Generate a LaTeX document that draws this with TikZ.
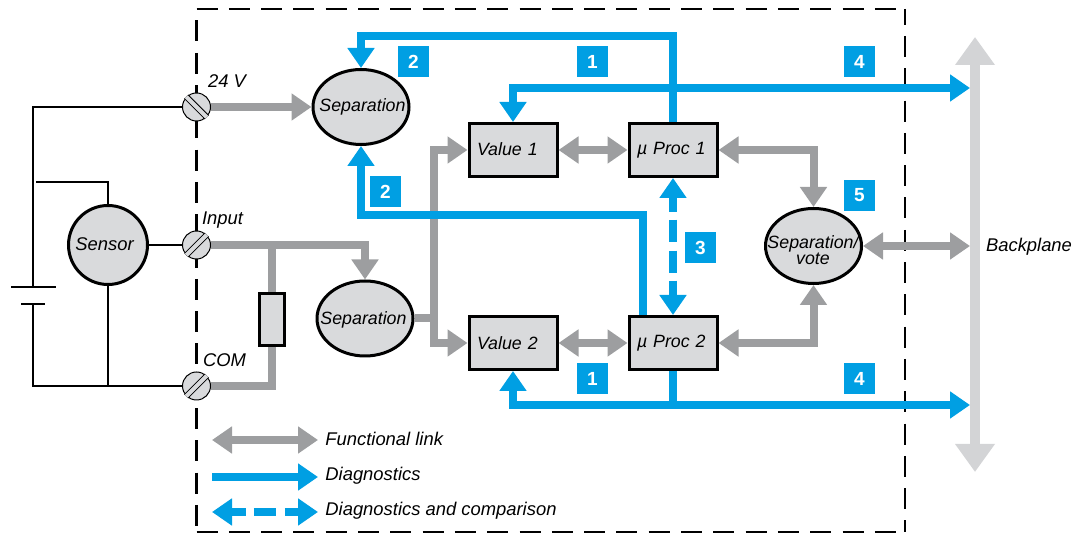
\documentclass[tikz,border=0pt]{standalone}
\usepackage{fontspec}
\setmainfont{Liberation Sans}
\usetikzlibrary{arrows.meta,shapes.geometric}
\definecolor{diagblue}{HTML}{009FE3}
\definecolor{linkgray}{HTML}{9D9EA0}
\definecolor{bodygray}{HTML}{D9DADC}
\definecolor{busgray}{HTML}{D3D4D6}
\tikzset{
    txt/.style={font=\itshape\fontsize{9.2}{8}\selectfont,inner sep=0pt,align=center},
    septxt/.style={txt,font=\itshape\fontsize{8.9}{8}\selectfont},
    blockbox/.style={font=\itshape\fontsize{8.9}{8}\selectfont,inner sep=0pt,draw=black,fill=bodygray,line width=1.5pt,minimum height=26.5pt,text width=36pt,inner xsep=4pt,align=left},
    sepnode/.style={ellipse,draw=black,fill=bodygray,line width=1.5pt,minimum width=48pt,minimum height=37.5pt},
    resbox/.style={draw=black,fill=bodygray,line width=1.5pt,minimum width=12.5pt,minimum height=26pt,inner sep=0pt},
    screw/.style={circle,draw=black,fill=bodygray,line width=0.5pt,minimum size=14pt,inner sep=0pt},
    slot/.style={draw=black,line width=0.5pt,double=bodygray,double distance=2pt},
    edge/.style={black,line width=1.25pt,dash pattern=on 10.5pt off 5.65pt},
    badge/.style={fill=diagblue,text=white,font=\bfseries\fontsize{9.5}{10}\selectfont,minimum size=15.5pt,inner sep=0pt},
    wire/.style={draw=black,line width=1.25pt},
    func/.style={draw=linkgray,line width=4pt},
    funcarrow/.style={func,-{Triangle[length=10pt,width=13pt,color=linkgray]}},
    funcboth/.style={func,{Triangle[length=10pt,width=13pt,color=linkgray]}-{Triangle[length=10pt,width=13pt,color=linkgray]}},
    diag/.style={draw=diagblue,line width=4pt},
    diagarrow/.style={diag,-{Triangle[length=10pt,width=13pt,color=diagblue]}},
    diagboth/.style={diag,{Triangle[length=10pt,width=13pt,color=diagblue]}-{Triangle[length=10pt,width=13pt,color=diagblue]}},
    bus/.style={draw=busgray,line width=5pt,{Triangle[length=14pt,width=19pt,color=busgray]}-{Triangle[length=14pt,width=19pt,color=busgray]}}
}
\begin{document}
\begin{tikzpicture}[x=0.5pt,y=-0.5pt]
    \useasboundingbox (0,0) rectangle (1087,533);
    \coordinate (BoxA) at (196.5,9); \coordinate (BoxB) at (905,9); \coordinate (BoxC) at (905,532); \coordinate (BoxD) at (196.5,532); \coordinate (BoxE) at (196.5,20.5);
    \draw[edge] (BoxA) -- (BoxB); \draw[edge] (BoxD) -- (BoxC);
    \draw[edge] (BoxE) -- (BoxD);
    \draw[edge,dash phase=2.65pt] (BoxB) -- (BoxC);

    \node[screw] (S1) at (196.5,107) {};
    \node[screw] (S2) at (196.5,245) {};
    \node[screw] (S3) at (196.5,386) {};
    \draw[slot] (S1.135) -- (S1.-45); \draw[slot] (S2.45) -- (S2.-135); \draw[slot] (S3.45) -- (S3.-135);
    \node[txt] (L24) at (227,81) {24 V};
    \node[txt] (LIn) at (222.5,220) {Input};
    \node[txt] (LCom) at (224.5,360) {COM};

    \node[screw,minimum size=39.5pt,line width=1.5pt] (Sensor) at (108,245) {};
    \node[txt] (LSensor) at (104.5,244) {Sensor};
    \node[resbox] (Res) at (271.5,319.5) {};
    \coordinate (BatT) at (33,287); \coordinate (BatB) at (33,304); \coordinate (WireS) at (36,182);
    \coordinate (BatTl) at (11,287); \coordinate (BatTr) at (56,287);
    \coordinate (BatBl) at (21,304); \coordinate (BatBr) at (45,304);
    \draw[wire] (S1.west) -| (BatT); \draw[wire] (S3.west) -| (BatB);
    \draw[wire] (BatTl) -- (BatTr); \draw[wire] (BatBl) -- (BatBr);
    \draw[wire] (WireS) -| (Sensor.north); \draw[wire] (Sensor.east) -- (S2.west);
    \draw[wire] (Sensor.south) -- (Sensor.south |- S3);

    \node[sepnode] (Sep1) at (361,107) {};
    \node[septxt] (LSep1) at (362.5,107) {Separation};
    \node[sepnode] (Sep2) at (365,318.5) {};
    \node[septxt] (LSep2) at (363.5,320) {Separation};
    \node[sepnode] (Vote) at (813.5,246) {};
    \node[septxt] (LVote) at (813,250) {Separation/\\vote};
    \node[blockbox] (Val1) at (513,150) {\raisebox{0.5pt}{Value 1}};
    \node[blockbox] (Val2) at (513,343) {Value 2};
    \node[blockbox] (Proc1) at (673,150) {µ Proc 1};
    \node[blockbox] (Proc2) at (673,343) {µ Proc 2};
    \coordinate (BusT) at (975,37); \coordinate (BusB) at (975,472);
    \draw[bus] (BusT) -- (BusB);
    \node[txt] (LBus) at (1029,247) {Backplane};

    \coordinate (Br) at (434,318.5); \coordinate (BusV) at (970,246);
    \draw[funcarrow] (S1.east) -- (Sep1.west);
    \draw[funcarrow] (S2.east) -| (Sep2.north);
    \draw[func] (Res.north) -- (Res.north |- S2); \draw[func] (Res.south) |- (S3.east);
    \draw[func] (Sep2.east) -- (Br);
    \draw[funcarrow] (Br) |- (Val1.west); \draw[funcarrow] (Br) |- (Val2.west);
    \draw[funcboth] (Val1.east) -- (Proc1.west); \draw[funcboth] (Val2.east) -- (Proc2.west);
    \draw[funcboth] (Proc1.east) -| (Vote.north); \draw[funcboth] (Proc2.east) -| (Vote.south);
    \draw[funcboth] (Vote.east) -- (BusV);

    \coordinate (TopL) at (500,36); \coordinate (MidL) at (500,215); \coordinate (P2Off) at (643,315);
    \coordinate (BusD1) at (970,88); \coordinate (BusD2) at (970,405);
    \draw[diagarrow] (Proc1.north) |- (TopL) -| (Sep1.north);
    \draw[diagarrow] (P2Off) |- (MidL) -| (Sep1.south);
    \draw[diagboth] (Val1.north) |- (BusD1);
    \draw[diagboth] (Val2.south) |- (BusD2);
    \draw[diag] (Proc2.south) -- (Proc2.south |- BusD2);
    \draw[diagboth,dash pattern=on 7.5pt off 4pt on 11pt off 4.5pt on 11pt off 4pt on 7.5pt off 2pt] (Proc1.south) -- (Proc2.north);

    \node[badge] (N2a) at (413.5,61.5) {2};
    \node[badge] (N2b) at (385.5,191.5) {2};
    \node[badge] (N1a) at (592.5,61.5) {1};
    \node[badge] (N4a) at (859.5,61.5) {4};
    \node[badge] (N3) at (700.5,247.5) {3};
    \node[badge] (N5) at (859.5,195.5) {5};
    \node[badge] (N1b) at (592.5,378.5) {1};
    \node[badge] (N4b) at (859.5,378.5) {4};

    \coordinate (Lg1a) at (212,440); \coordinate (Lg1b) at (318,440);
    \coordinate (Lg2a) at (212,477); \coordinate (Lg2b) at (318,477);
    \coordinate (Lg3a) at (212,512); \coordinate (Lg3b) at (318,512);
    \draw[funcboth] (Lg1a) -- (Lg1b);
    \draw[diagarrow] (Lg2a) -- (Lg2b);
    \draw[diagboth,dash pattern=on 7.5pt off 4pt on 11pt off 4.5pt on 7.5pt off 2pt] (Lg3a) -- (Lg3b);
    \node[txt,anchor=west] (T1) at (325,439) {Functional link};
    \node[txt,anchor=west] (T2) at (325,475.5) {Diagnostics};
    \node[txt,anchor=west] (T3) at (325,510.5) {Diagnostics and comparison};
\end{tikzpicture}
\end{document}
